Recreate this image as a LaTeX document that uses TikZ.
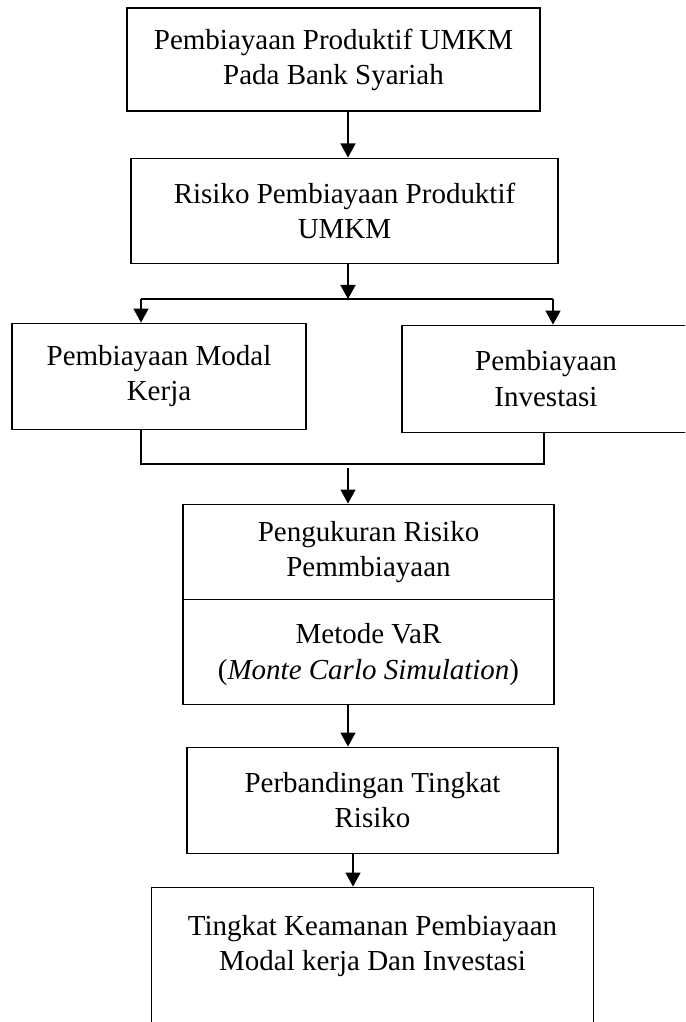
\documentclass[tikz,border=0pt]{standalone}
\usepackage{fontspec}
\setmainfont{Liberation Serif}
\usetikzlibrary{arrows.meta,positioning,shapes.multipart}

\begin{document}
\begin{tikzpicture}[node distance=0.9cm,
  stepbox/.style={rectangle, draw=black, line width=0.6pt, text centered, align=center,
    font=\fontsize{16.5}{20}\selectfont},
  arr/.style={-{Triangle[width=8.5pt,length=8pt]}, line width=1pt},
  link/.style={line width=1pt}]

  \useasboundingbox (0,0) rectangle (13.7,-20.44);
  \clip (0,0) rectangle (13.7,-20.44);

  % Top
  \node[stepbox, minimum width=8.26cm, minimum height=2.06cm] (produktif) at (6.67,-1.19)
    {Pembiayaan Produktif UMKM\\Pada Bank Syariah};
  \node[stepbox, minimum width=8.54cm, minimum height=2.10cm, below=0.92cm of produktif, xshift=0.22cm] (risiko)
    {Risiko Pembiayaan Produktif\\UMKM};

  % Two kinds
  \node[stepbox, minimum width=5.88cm, minimum height=2.12cm, below=1.18cm of risiko, xshift=-3.71cm] (modal)
    {Pembiayaan Modal\\Kerja};
  \node[stepbox, minimum width=5.76cm, minimum height=2.14cm, below=1.22cm of risiko, xshift=4.03cm] (investasi)
    {Pembiayaan\\Investasi};

  % Measurement and result
  \node[stepbox, rectangle split, rectangle split parts=2, minimum width=7.42cm, inner ysep=0.33cm,
    below=4.80cm of risiko, xshift=0.48cm] (ukur)
    {Pengukuran Risiko\\Pemmbiayaan \nodepart{two} \rule{0pt}{15.5pt}Metode VaR\\(\textit{Monte Carlo Simulation})\rule[-4.5pt]{0pt}{0pt}};
  \node[stepbox, minimum width=7.42cm, minimum height=2.12cm, below=0.84cm of ukur, xshift=0.08cm] (banding)
    {Perbandingan Tingkat\\Risiko};
  \node[stepbox, minimum width=8.84cm, minimum height=3.4cm, below=0.66cm of banding,
    label={[stepbox, draw=none, anchor=north, yshift=-0.44cm]north:{Tingkat Keamanan Pembiayaan\\Modal kerja Dan Investasi}}] (aman) {};

  % Connectors
  \coordinate (axis) at (6.96,0);
  \coordinate (axisb) at (7.06,0);
  \coordinate (forkL) at (2.82,-5.98);
  \coordinate (forkR) at (11.06,-5.98);
  \coordinate (joinL) at (2.82,-9.28);
  \coordinate (joinR) at (10.88,-9.28);
  \coordinate (joinM) at (6.96,-9.36);

  \draw[arr] (produktif.south -| axis) -- (risiko.north -| axis);
  \draw[arr] (risiko.south -| axis) -- (forkL -| axis);
  \draw[link] (forkL) -- (forkR);
  \draw[arr] (forkL) -- (modal.north -| forkL);
  \draw[arr] (forkR) -- (investasi.north -| forkR);
  \draw[link] (modal.south -| joinL) -- (joinL) -- (joinR) -- (investasi.south -| joinR);
  \draw[arr] (joinM) -- (ukur.north -| joinM);
  \draw[arr] (ukur.south -| axis) -- (banding.north -| axis);
  \draw[arr] (banding.south -| axisb) -- (aman.north -| axisb);
\end{tikzpicture}
\end{document}
